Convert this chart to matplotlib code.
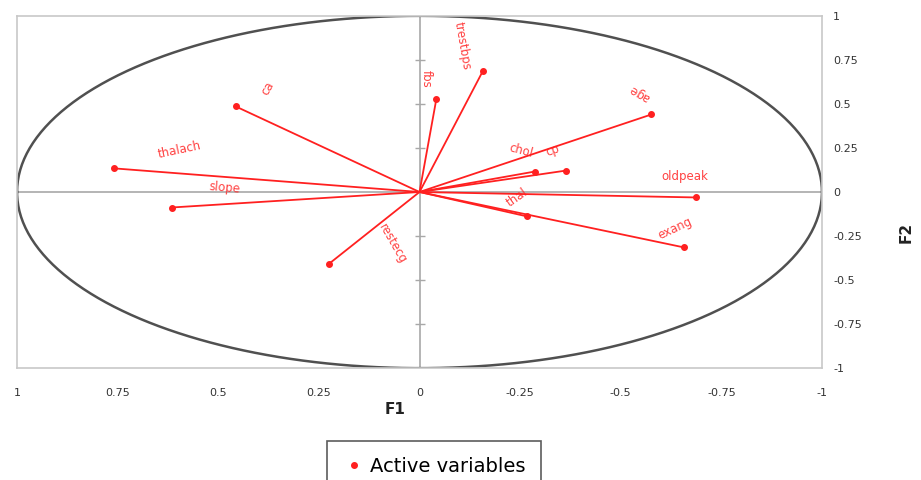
import numpy as np
import matplotlib.pyplot as plt

# variable loadings on F1 / F2
labels = ['thalach', 'slope', 'ca', 'fbs', 'trestbps', 'age',
          'chol', 'cp', 'oldpeak', 'thal', 'exang', 'restecg']
f1 = [0.758, 0.616, 0.457, -0.042, -0.157, -0.576,
      -0.286, -0.365, -0.688, -0.268, -0.658, 0.224]
f2 = [0.134, -0.088, 0.486, 0.530, 0.685, 0.440,
      0.116, 0.122, -0.031, -0.139, -0.315, -0.406]

# where each name was written, and its angle
label_pos = {'thalach': (0.596, 0.236, 12), 'slope': (0.484, 0.026, -5),
             'ca': (0.378, 0.588, 60), 'fbs': (-0.017, 0.645, -90),
             'trestbps': (-0.107, 0.832, -80), 'age': (-0.547, 0.56, 150),
             'chol': (-0.253, 0.236, -15), 'cp': (-0.33, 0.236, 20),
             'oldpeak': (-0.658, 0.088, 0), 'thal': (-0.243, -0.031, 35),
             'exang': (-0.634, -0.207, 25), 'restecg': (0.067, -0.293, -60)}

ticks = [1, 0.75, 0.5, 0.25, 0, -0.25, -0.5, -0.75, -1]
tick_labels = ['1', '0.75', '0.5', '0.25', '0', '-0.25', '-0.5', '-0.75', '-1']

red = '#ff2020'

fig = plt.figure(figsize=(9.21, 4.8), dpi=100)
ax = fig.add_axes([0.0185, 0.233, 0.874, 0.734])

# correlation circle
t = np.linspace(0, 2 * np.pi, 400)
ax.plot(np.cos(t), np.sin(t), color='#505050', lw=1.8, zorder=2)

# centre axes, ticks only on the vertical one
ax.axhline(0, color='#a8a8a8', lw=1.2, zorder=1)
ax.axvline(0, color='#a8a8a8', lw=1.2, zorder=1)
inner = [v for v in ticks if v not in (0, 1, -1)]
ax.plot([0] * len(inner), inner, ls='none', marker='_', ms=7, color='#a8a8a8', zorder=1)

for name, x, y in zip(labels, f1, f2):
    ax.plot([0, x], [0, y], color=red, lw=1.3, zorder=3)
    ax.plot(x, y, 'o', color=red, ms=4, zorder=4)
    lx, ly, rot = label_pos[name]
    ax.text(lx, ly, name, color=red, fontsize=8.5, rotation=rot,
            ha='center', va='center', rotation_mode='anchor', alpha=0.85)

ax.set_xlim(1, -1)
ax.set_ylim(-1, 1)
ax.set_xticks(ticks)
ax.set_xticklabels(tick_labels)
ax.set_yticks(ticks)
ax.set_yticklabels(tick_labels)
ax.yaxis.tick_right()
ax.tick_params(axis='both', length=0, labelsize=8, labelcolor='#333333')
ax.tick_params(axis='x', pad=14)
ax.tick_params(axis='y', pad=8)
for s in ax.spines.values():
    s.set_color('#c8c8c8')
    s.set_linewidth(1.2)

fig.text(395 / 921, 1 - 410 / 480, 'F1', fontsize=11, fontweight='bold',
         ha='center', va='center', color='#222222')
fig.text(906 / 921, 1 - 232 / 480, 'F2', fontsize=11, fontweight='bold',
         rotation=90, ha='center', va='center', color='#222222')

h, = ax.plot([], [], 'o', color=red, ms=4, label='Active variables')
leg = fig.legend(handles=[h], loc='center', bbox_to_anchor=(434 / 921, 1 - 466 / 480),
                 fontsize=14, frameon=True, fancybox=False, handlelength=1.2,
                 handletextpad=0.2, borderpad=0.3, borderaxespad=0)
leg.get_frame().set_edgecolor('#333333')
leg.get_frame().set_linewidth(1.2)
leg.get_frame().set_boxstyle('square', pad=0.5)

fig.savefig('out.png', dpi=100)
